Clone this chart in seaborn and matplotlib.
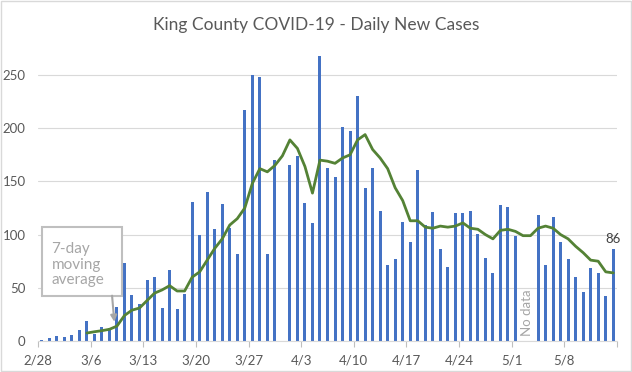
import numpy as np
import pandas as pd
import matplotlib.pyplot as plt
import matplotlib.patches as patches
import seaborn as sns

# data, one value per day starting 2/28 (None = no data)
start_date = '2020-02-28'
cases = [1, 3, 5, 4, 6, 10, 19, 7, 13, 12,
         32, 73, 43, 35, 57, 60, 31, 67, 30, 44,
         131, 100, 140, 105, 129, 106, 82, 217, 250, 248,
         82, 170, None, 165, 174, 130, 111, 268, 163, 154,
         201, 197, 230, 144, 163, 122, 71, 77, 112, 93,
         161, 109, 121, 86, 70, 120, 120, 122, 101, 78,
         64, 128, 126, 99, None, None, 118, 71, 117, 93,
         77, 60, 46, 69, 64, 42, 86]

# 7-day moving average line, as drawn
moving_avg = [None, None, None, None, None, None, 7.5, 8.7, 9.7, 11,
              14, 24, 29, 31, 38, 45, 48, 52, 47, 47,
              60, 65, 76, 87, 96, 109, 115, 125, 148, 162,
              159, 165, 174, 189, 181, 164, 139, 170, 169, 167,
              172, 175, 189, 194, 180, 172, 162, 144, 132, 113,
              113, 107, 106, 108, 107, 108, 111, 106, 105, 100,
              96, 104, 105, 103, 99, 99, 106, 108, 106, 100,
              96, 89, 83, 76, 75, 65, 64]

tick_labels = ['2/28', '3/6', '3/13', '3/20', '3/27', '4/3', '4/10',
               '4/17', '4/24', '5/1', '5/8']

dates = pd.date_range(start_date, periods=len(cases))
df = pd.DataFrame({'date': dates, 'cases': cases, 'ma': moving_avg})
df['day'] = (df['date'] - df['date'].iloc[0]).dt.days
df['cases'] = pd.to_numeric(df['cases'])
df['ma'] = pd.to_numeric(df['ma'])

sns.set_style('white')
plt.rcParams['font.family'] = ['Lato', 'DejaVu Sans']
text_grey = '#595959'

fig = plt.figure(figsize=(6.32, 3.72), dpi=100)
ax = fig.add_axes([38 / 632, 31 / 372, 579 / 632, 289.4 / 372])

bars = df.dropna(subset=['cases'])
sns.barplot(data=bars, x='day', y='cases', native_scale=True, width=0.4,
            color='#4472C4', saturation=1, errorbar=None, ax=ax, zorder=2,
            linewidth=0)
for p in ax.patches:
    p.set_antialiased(False)
sns.lineplot(data=df.dropna(subset=['ma']), x='day', y='ma', color='#548235',
             linewidth=2, ax=ax, zorder=3)

ax.set_xlim(-0.5, len(cases) - 0.5)
ax.set_ylim(0, 272)
ax.set_yticks(np.arange(0, 251, 50))
ax.yaxis.grid(True, color='#d9d9d9', linewidth=0.8, zorder=0)
ax.set_axisbelow(True)

# weekly ticks sit on the left edge of each date slot
tick_days = [d for d in df['day'] if d % 7 == 0]
ax.set_xticks([d - 0.5 for d in tick_days] + [len(cases) - 0.5])
ax.set_xticklabels(tick_labels + [''])
ax.tick_params(axis='x', colors='#bfbfbf', length=4, width=0.8, labelcolor=text_grey,
               labelsize=9.5, pad=6, bottom=True)
ax.tick_params(axis='y', length=0, labelcolor=text_grey, labelsize=9.5, pad=9)
ax.set_xlabel('')
ax.set_ylabel('')
for side in ['top', 'right', 'left']:
    ax.spines[side].set_visible(False)
ax.spines['bottom'].set_color('#d9d9d9')
ax.spines['bottom'].set_linewidth(0.8)

fig.suptitle('King County COVID-19 - Daily New Cases', y=0.955, fontsize=12.5,
             color=text_grey)

# callout box for the moving average
ax.add_patch(patches.Rectangle((0, 42.6), 10.7, 64.8, facecolor='white',
                               edgecolor='#bfbfbf', linewidth=1.5, zorder=5))
ax.text(1.3, 93, '7-day\nmoving\naverage', color='#a6a6a6', fontsize=11,
        va='top', ha='left', linespacing=1.15, zorder=6)
ax.annotate('', xy=(9.65, 18), xytext=(9.35, 42.6),
            arrowprops=dict(arrowstyle='-|>', color='#a6a6a6', lw=1.5,
                            mutation_scale=9, shrinkA=0, shrinkB=0), zorder=6)

ax.text(64.5, 27, 'No data', rotation=90, ha='center', va='center',
        color='#a6a6a6', fontsize=9.5)
last = df['cases'].iloc[-1]
ax.text(df['day'].iloc[-1], last + 4, f'{last:.0f}', ha='center', va='bottom',
        color='#404040', fontsize=9.5)

fig.patches.append(patches.Rectangle((0.001, 0.002), 0.997, 0.995, transform=fig.transFigure,
                                     fill=False, edgecolor='#d9d9d9', linewidth=1))

fig.savefig('out.png', dpi=100)
